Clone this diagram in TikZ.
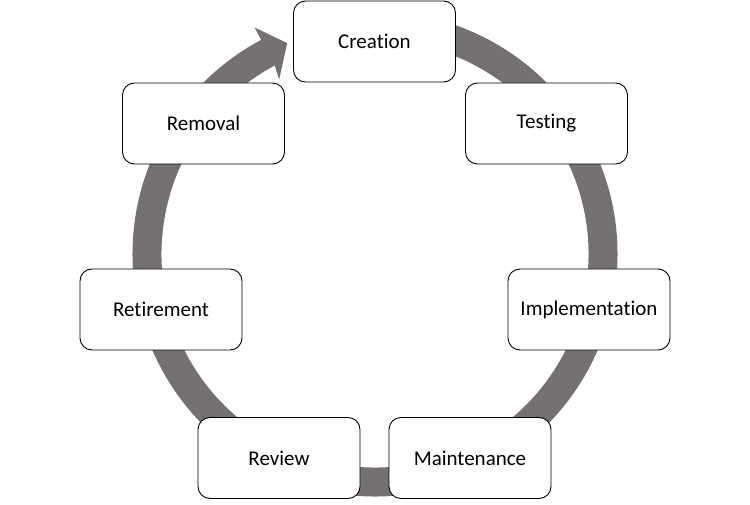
\documentclass[tikz,border=0pt]{standalone}
\usepackage{fontspec}
\setmainfont{Carlito}[Ligatures={NoCommon,NoRequired,NoContextual}]
\definecolor{ringgray}{RGB}{118,113,113}
\begin{document}
\begin{tikzpicture}[x=1pt,y=1pt,
  stage/.style={draw=black,line width=0.9pt,fill=white,rounded corners=12pt,
    minimum width=162pt,minimum height=81pt,inner sep=0pt,
    font=\fontsize{21}{25}\selectfont}]
\useasboundingbox (0,0) rectangle (750,504);
% ring with arrow head
\begin{scope}[shift={(375,250)}]
\fill[ringgray] (85:242.5) arc[start angle=85,end angle=-242,radius=242.5]
  -- (118:256.5) -- (112.6:228.5) -- (118.8:199) -- (-242:213.5)
  arc[start angle=-242,end angle=85,radius=213.5] -- cycle;
\end{scope}
\node[stage] (creation) at (374.5,462.5) {Creation};
\node[stage] (testing) at (546.5,380.5) {Testing};
\node[stage] (implementation) at (589,194.5) {Implementation};
\node[stage] (maintenance) at (470,46) {Maintenance};
\node[stage] (review) at (279,46) {Review};
\node[stage] (retirement) at (161,194.5) {Retirement};
\node[stage] (removal) at (203.5,380.5) {Removal};
\end{tikzpicture}
\end{document}
